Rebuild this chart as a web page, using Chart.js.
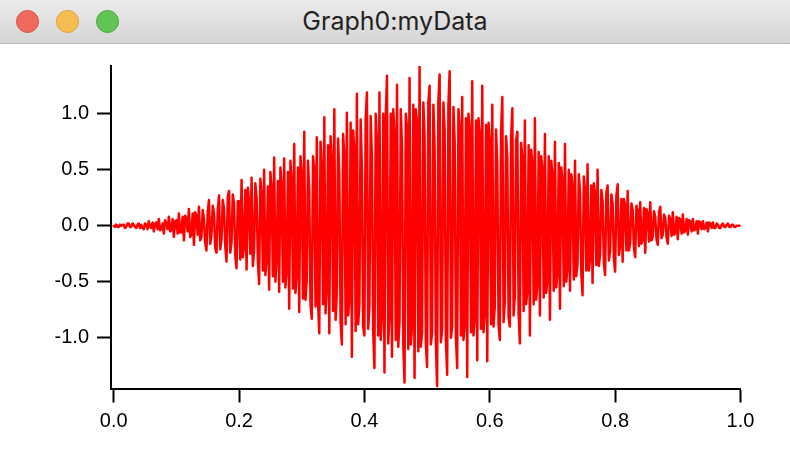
<!DOCTYPE html>
<html>
<head>
<meta charset="utf-8">
<script src="https://cdn.jsdelivr.net/npm/chart.js@4/dist/chart.umd.min.js"></script>
<style>
  html, body { margin: 0; padding: 0; background: #fff; }
  #win { position: relative; width: 790px; height: 460px; overflow: hidden; background: #fff; }
  #titlebar {
    position: absolute; left: 0; top: 0; width: 790px; height: 43px;
    background: linear-gradient(#ebebeb, #d5d5d5);
    border-bottom: 1px solid #b4b4b4;
  }
  .light { position: absolute; top: 10px; width: 23px; height: 23px; border-radius: 50%; box-sizing: border-box; }
  #red { left: 16px; background: #ee6a5e; border: 1px solid #d5554a; }
  #yellow { left: 56px; background: #f5bd4f; border: 1px solid #d9a23b; }
  #green { left: 96px; background: #61c554; border: 1px solid #4ea83f; }
  #title {
    position: absolute; left: 0; top: 0; width: 790px; height: 43px; line-height: 43px;
    text-align: center; font-family: Inter, "Liberation Sans", sans-serif; font-size: 25px; color: #222;
  }
  #plot { position: absolute; left: 0; top: 44px; width: 790px; height: 416px; }
</style>
</head>
<body>
<div id="win">
  <div id="titlebar">
    <div class="light" id="red"></div>
    <div class="light" id="yellow"></div>
    <div class="light" id="green"></div>
    <div id="title">Graph0:myData</div>
  </div>
  <div id="plot"><canvas id="myChart" width="790" height="416"></canvas></div>
</div>
<script>
// wave scaling: x = i * xStep, the "mid" samples sit half a step later
const xStep = 0.004

// myData (251 samples at 0, 0.004 .. 1)
const myData = [
  0.00, 0.01, -0.01, 0.00, 0.01, -0.01, 0.02, -0.01, 0.01, -0.02, 0.02, 0.01, -0.03, 0.01, 0.04, -0.02, -0.05, 0.03, 0.06, -0.03, -0.07, 0.02, 0.08, -0.04, -0.10,
  0.05, 0.11, -0.06, -0.13, 0.07, 0.15, -0.08, -0.17, 0.09, 0.17, -0.10, 0.06, -0.22, 0.23, -0.08, 0.12, -0.24, 0.27, -0.12, 0.15, -0.32, 0.31, -0.15, 0.20, -0.38,
  0.22, 0.41, -0.18, -0.39, 0.20, 0.43, -0.22, 0.25, -0.52, 0.28, 0.50, -0.30, -0.57, 0.32, 0.61, -0.28, -0.59, 0.35, 0.60, -0.38, -0.74, 0.40, 0.73, -0.42, -0.77,
  0.45, 0.84, -0.48, 0.30, -0.83, 0.50, 0.79, -0.96, 0.52, 0.97, -0.55, -0.96, 0.58, 1.04, -0.60, 0.45, -1.06, 0.62, 1.01, -0.65, -1.17, 0.68, 1.18, -0.70, 0.50,
  -0.98, 1.19, -0.72, 0.60, -1.27, 0.75, 1.19, -0.78, -1.31, 1.34, -0.80, -1.17, 0.82, 1.26, -0.85, 0.70, -1.40, 0.88, 1.32, -0.90, -1.36, 0.92, 1.42, -0.95, 0.80,
  -1.26, 1.25, -0.95, 0.70, -1.43, 1.35, -0.92, 0.85, -1.33, 1.38, -0.90, 0.75, -1.27, 0.88, 1.15, -0.88, -1.35, 0.85, 1.29, -0.82, -1.20, 0.80, 1.25, -0.78, -1.21,
  0.75, 1.08, -0.72, 0.55, -1.02, 1.15, -0.68, 0.60, -0.90, 1.05, -0.62, 0.84, -1.05, 0.60, 0.94, -0.58, -0.98, 0.55, 0.96, -0.52, -0.80, 0.50, 0.82, -0.48, -0.84,
  0.45, 0.75, -0.42, -0.74, 0.40, 0.73, -0.38, -0.58, 0.36, 0.58, -0.34, 0.30, -0.62, 0.32, 0.55, -0.30, -0.51, 0.28, 0.50, -0.26, 0.22, -0.44, 0.36, -0.22, 0.20,
  -0.41, 0.37, -0.18, -0.32, 0.17, 0.31, -0.15, 0.14, -0.28, 0.13, 0.21, -0.12, -0.24, 0.11, 0.21, -0.10, 0.08, -0.17, 0.17, -0.08, 0.07, -0.16, 0.06, 0.12, -0.06,
  -0.12, 0.05, 0.10, -0.04, -0.08, 0.04, 0.06, -0.03, -0.07, 0.03, 0.04, -0.02, -0.05, 0.02, 0.03, -0.02, 0.01, -0.02, 0.02, -0.01, 0.02, -0.01, 0.01, -0.01, 0.00,
  0.00,
]

// the fine structure that fills the inside (250 samples at 0.002, 0.006 .. 0.998)
const myDataMid = [
  -0.01, -0.01, 0.01, 0.01, -0.02, 0.02, -0.01, 0.02, -0.01, 0.01, -0.02, -0.02, 0.02, -0.03, -0.01, 0.03, 0.02, -0.03, -0.04, 0.02, 0.05, -0.03, -0.05, 0.06, 0.04,
  -0.07, -0.06, 0.08, 0.09, -0.05, -0.10, 0.11, 0.12, -0.08, -0.13, 0.14, -0.15, 0.12, -0.16, 0.18, -0.20, 0.14, -0.21, 0.23, -0.18, 0.26, -0.24, 0.28, -0.27, 0.22,
  -0.30, -0.28, 0.32, 0.34, -0.25, -0.36, 0.38, -0.30, 0.42, -0.40, -0.44, 0.35, 0.48, -0.45, -0.50, 0.40, 0.52, -0.50, -0.55, 0.48, 0.58, -0.56, -0.60, 0.52, 0.62,
  -0.65, -0.66, 0.58, -0.70, 0.62, -0.72, -0.68, 0.75, -0.70, -0.78, 0.72, 0.80, -0.76, -0.84, 0.78, -0.86, 0.82, -0.88, -0.80, 0.92, 0.85, -0.94, -0.88, 0.95, -0.90,
  0.96, -0.92, 0.98, -0.95, 1.00, -0.98, -1.02, 1.00, 0.96, -1.05, 1.00, 1.04, -1.02, -1.08, 1.04, -1.06, 1.00, -1.10, -1.06, 1.08, 1.04, -1.12, -1.08, 1.10, -1.05,
  1.10, -1.06, 1.08, -1.05, 1.12, -1.04, 1.10, -1.02, 1.08, -1.00, 1.06, -1.00, 1.04, -0.98, -1.02, 0.96, 1.00, -0.95, -0.98, 0.94, 0.96, -0.92, -0.95, 0.90, 0.92,
  -0.88, -0.90, 0.86, -0.88, 0.84, -0.86, 0.80, -0.82, 0.78, -0.80, 0.76, -0.78, 0.74, -0.76, -0.70, 0.72, 0.68, -0.70, -0.66, 0.66, 0.62, -0.64, -0.60, 0.62, 0.58,
  -0.58, -0.55, 0.56, 0.52, -0.54, -0.50, 0.50, 0.46, -0.48, -0.45, 0.46, -0.42, 0.44, -0.40, -0.40, 0.36, 0.38, -0.35, -0.36, 0.32, -0.33, 0.30, -0.31, 0.28, -0.29,
  0.27, -0.26, 0.24, 0.24, -0.22, -0.22, 0.20, -0.20, 0.18, -0.18, -0.16, 0.16, 0.15, -0.14, -0.13, 0.13, -0.12, 0.12, -0.11, 0.10, -0.10, 0.09, -0.09, -0.08, 0.08,
  0.07, -0.07, -0.06, 0.06, 0.05, -0.05, -0.04, 0.04, 0.04, -0.03, -0.03, 0.03, 0.03, -0.02, -0.02, 0.02, -0.02, 0.01, -0.01, 0.01, -0.01, 0.01, -0.01, 0.00, 0.00,
]

const xTicks = [0, 0.2, 0.4, 0.6, 0.8, 1.0]
const yTicks = [-1.0, -0.5, 0, 0.5, 1.0]

var points = []
myData.forEach(function (v, i) {
  points.push({ x: i * xStep, y: v })
  if (i < myDataMid.length) {
    points.push({ x: i * xStep + xStep / 2, y: myDataMid[i] })
  }
})

var ctx = document.getElementById('myChart').getContext('2d')

var axisFont = { family: '"Liberation Sans", Arial, sans-serif', size: 20 }

var myChart = new Chart(ctx, {
  type: 'line',
  data: {
    datasets: [
      {
        label: 'myData',
        data: points,
        borderColor: '#ff0000',
        borderWidth: 2.5,
        borderCapStyle: 'round',
        borderJoinStyle: 'round',
        pointRadius: 0,
        tension: 0,
        fill: false,
      },
    ],
  },
  options: {
    responsive: false,
    animation: false,
    events: [],
    layout: {
      padding: { top: 22, right: 49.5, left: 0, bottom: 0 },
    },
    plugins: {
      legend: { display: false },
      tooltip: { enabled: false },
    },
    scales: {
      x: {
        type: 'linear',
        min: -0.0043,
        max: 1.0,
        afterFit: function (scale) {
          scale.height = 71.5
        },
        afterBuildTicks: function (scale) {
          scale.ticks = xTicks.map(function (v) { return { value: v } })
        },
        border: { display: true, color: '#000', width: 2 },
        grid: {
          drawOnChartArea: false,
          drawTicks: true,
          tickLength: 14,
          tickWidth: 2,
          tickColor: '#000',
        },
        ticks: {
          color: '#000',
          font: axisFont,
          padding: 7,
          maxRotation: 0,
          autoSkip: false,
          callback: function (v) { return Number(v).toFixed(1) },
        },
      },
      y: {
        type: 'linear',
        min: -1.453,
        max: 1.427,
        afterFit: function (scale) {
          scale.width = 111
        },
        afterBuildTicks: function (scale) {
          scale.ticks = yTicks.map(function (v) { return { value: v } })
        },
        border: { display: true, color: '#000', width: 2 },
        grid: {
          drawOnChartArea: false,
          drawTicks: true,
          tickLength: 14,
          tickWidth: 2,
          tickColor: '#000',
        },
        ticks: {
          color: '#000',
          font: axisFont,
          padding: 8,
          autoSkip: false,
          callback: function (v) { return Number(v).toFixed(1) },
        },
      },
    },
  },
})
</script>
</body>
</html>
